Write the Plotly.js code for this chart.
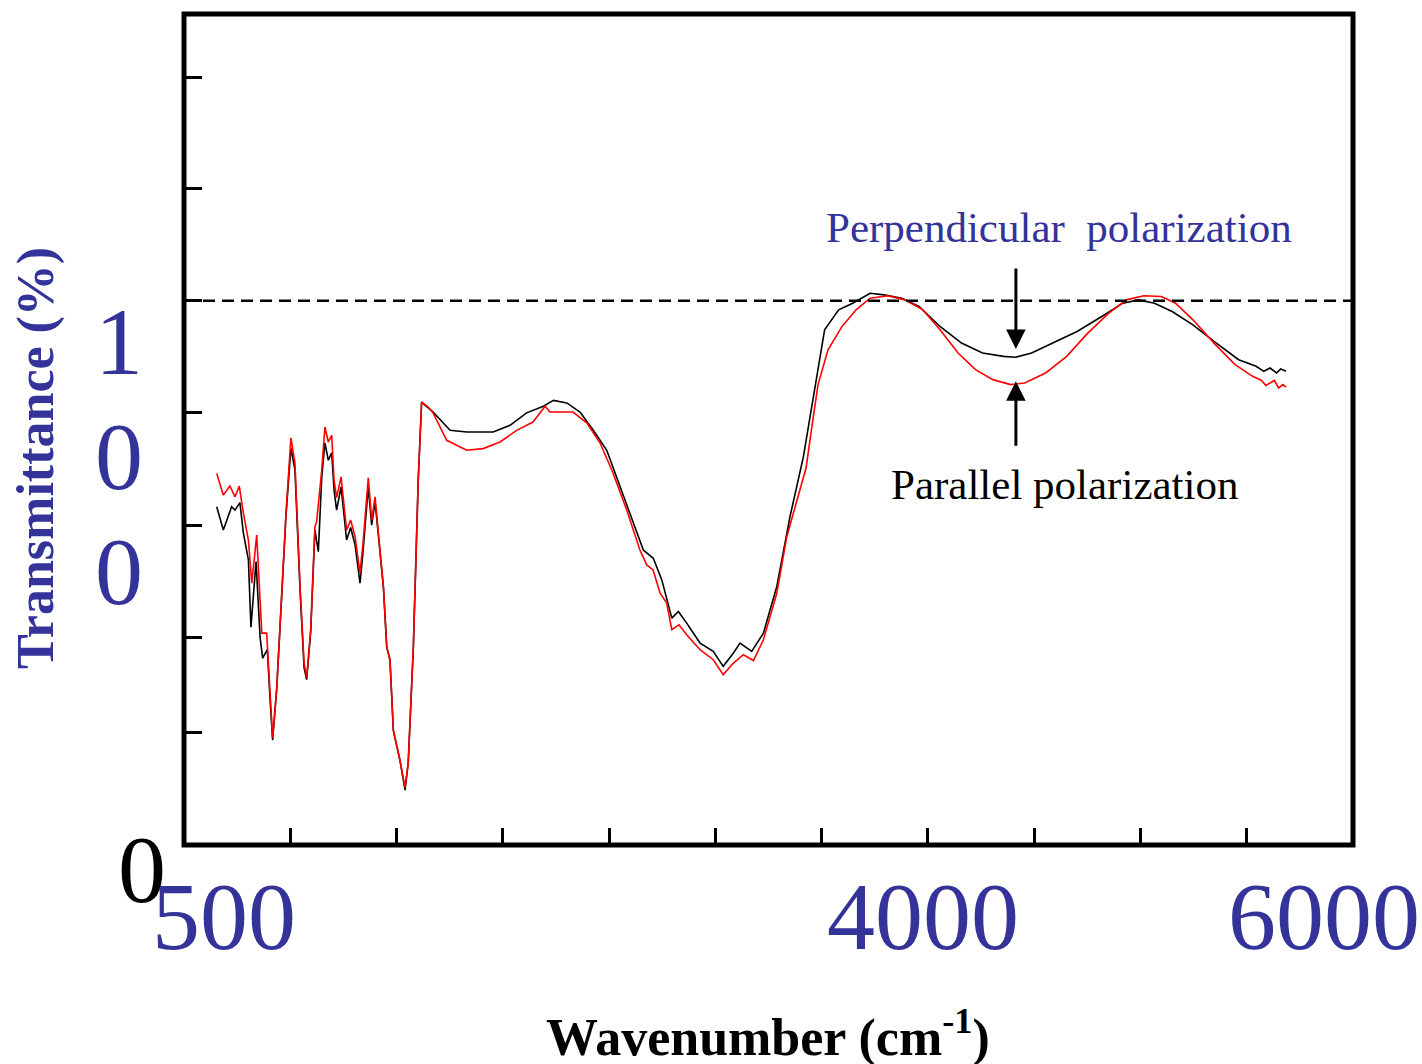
<!DOCTYPE html>
<html>
<head>
<meta charset="utf-8">
<script src="https://cdn.plot.ly/plotly-3.0.1.min.js"></script>
<style>html,body{margin:0;padding:0;background:#fff;}#chart{width:1422px;height:1064px;}</style>
</head>
<body>
<div id="chart"></div>
<script>
// Wavenumber (cm-1) and transmittance (%)
const wnParallel = [654,685,716,740,760,779,803,819,842,858,866,889,905,917,936,960,980,1003,1022,1046,1065,1077,1096,1116,1124,1148,1163,1179,1195,1206,1218,1239,1265,1284,1305,1328,1341,1367,1383,1399,1414,1438,1454,1469,1485,1516,1540,1555,1579,1602,1618,1649,1672,1736,1830,1907,1987,2065,2142,2199,2222,2330,2395,2457,2518,2583,2645,2677,2707,2740,2771,2795,2829,2865,2928,2990,3037,3085,3132,3179,3226,3289,3336,3398,3427,3455,3483,3530,3596,3662,3728,3811,3892,3976,4057,4142,4224,4306,4389,4455,4554,4653,4752,4851,4934,5016,5099,5165,5247,5346,5445,5528,5570,5590,5610,5630,5650,5670,5685];
const tParallel = [44.7,42.1,43.2,41.9,43.2,40.0,36.7,31.5,37.3,29.1,25.5,25.5,17.5,12.9,18.7,30.3,40.0,49.0,46.0,31.1,21.9,20.1,25.9,38.3,38.9,45.1,50.3,48.5,49.3,43.9,41.8,44.3,37.9,39.1,37.1,32.7,35.9,44.2,39.1,41.9,37.6,31.1,23.8,22.3,13.8,10.2,6.9,9.9,23.8,43.9,53.3,52.7,52.0,48.7,47.5,47.7,48.5,49.9,50.9,52.8,52.1,52.1,50.8,48.4,44.8,40.3,35.5,33.7,33.1,30.3,29.1,25.9,26.5,25.3,23.5,22.3,20.5,21.9,22.9,22.2,24.7,30.3,37.1,42.7,45.4,50.5,55.4,59.6,62.4,64.4,65.8,66.1,65.6,64.4,62.0,59.2,57.2,56.0,55.4,55.6,56.8,58.8,61.6,64.0,65.6,66.1,66.0,65.2,63.2,60.4,57.8,56.4,55.9,55.3,55.6,55.9,55.0,55.4,55.1];

const wnPerpendicular = [654,685,724,740,763,779,803,815,839,858,870,892,905,917,936,960,980,1003,1022,1046,1065,1077,1096,1116,1132,1148,1163,1179,1195,1206,1218,1239,1265,1284,1305,1328,1341,1367,1383,1399,1414,1438,1454,1469,1485,1516,1540,1555,1579,1602,1618,1672,1752,1830,1955,2034,2112,2191,2238,2301,2363,2426,2489,2551,2614,2661,2708,2748,2795,2826,2865,2928,2990,3037,3085,3116,3171,3226,3289,3351,3414,3473,3514,3580,3646,3728,3794,3877,3958,4057,4158,4257,4356,4414,4488,4587,4702,4818,4917,4991,5066,5149,5247,5346,5462,5544,5580,5610,5640,5660,5685];
const tPerpendicular = [40.7,37.9,40.7,40.3,41.2,37.6,34.3,26.2,34.1,25.0,22.5,23.5,17.5,12.6,18.7,30.3,39.7,47.8,45.1,30.7,21.3,19.9,25.6,37.9,35.3,44.2,48.4,46.3,47.2,42.7,40.3,43.1,36.7,38.2,36.1,31.5,34.9,43.1,38.5,41.3,37.3,31.1,23.8,22.3,13.8,10.2,6.6,9.9,23.8,43.9,53.3,52.1,49.9,49.7,49.7,50.5,52.0,52.8,53.5,53.2,52.1,49.9,47.5,43.1,38.8,35.5,34.5,31.9,27.3,28.1,26.7,24.3,23.3,21.5,23.1,24.3,23.3,25.5,31.1,39.5,46.7,55.6,62.0,64.4,65.2,66.4,66.2,65.8,64.8,62.4,60.4,59.2,58.8,58.7,59.2,60.4,61.8,63.6,65.2,65.6,65.2,64.2,62.6,60.6,58.4,57.6,57.0,57.4,56.8,57.3,57.0];

const xTickVals = [1000,1500,2000,2500,3000,3500,4000,4500,5000,5500];
const yTickVals = [13.5,25,38.5,52,65.5,79,92.4];
const referenceLevel = 65.5;
const arrowWavenumber = 4414;
const perpArrowTip = 59.7;
const parArrowTip = 55.8;

const xLabelTexts = ['0','500','4000','6000'];
const yLabelTexts = ['1','0','0'];

const BLUE = '#333399';
const SERIF = '"Liberation Serif", "Times New Roman", Times, serif';

const traces = [
  {x: wnPerpendicular, y: tPerpendicular, type:'scatter', mode:'lines', name:'Perpendicular polarization',
   line:{color:'#000000', width:1.6}},
  {x: wnParallel, y: tParallel, type:'scatter', mode:'lines', name:'Parallel polarization',
   line:{color:'#ff0000', width:1.6}}
];

// helper: pixel position in the 1422x1064 page -> paper coordinates
function px(xp){ return (xp-184)/1169; }
function py(yp){ return (845-yp)/831; }
function label(text, x, y, font, extra){
  return Object.assign({xref:'paper', yref:'paper', x:px(x), y:py(y), text:text, showarrow:false,
    xanchor:'center', yanchor:'middle', font:font}, extra||{});
}

const big = (c)=>({family: SERIF, size: 96, color:c});
const annotations = [
  // x tick-like labels
  label(xLabelTexts[0], 142, 869, big('#000000')),
  label(xLabelTexts[1], 224, 917, big(BLUE)),
  label(xLabelTexts[2], 923, 917, big(BLUE)),
  label(xLabelTexts[3], 1324, 917, big(BLUE)),
  // y tick-like labels
  label(yLabelTexts[0], 119, 341, big(BLUE)),
  label(yLabelTexts[1], 119, 456, big(BLUE)),
  label(yLabelTexts[2], 119, 571, big(BLUE)),
  // axis titles
  label('<b>Transmittance (%)</b>', 36, 458, {family:SERIF, size:52, color:BLUE}, {textangle:-90}),
  label('<b>Wavenumber (cm<sup>-1</sup>)</b>', 768, 1034, {family:SERIF, size:52, color:'#000000'}),
  // series labels
  label('Perpendicular\u00a0\u00a0polarization', 1059, 228, {family:SERIF, size:43, color:BLUE}),
  label('Parallel polarization', 1064, 484, {family:SERIF, size:43, color:'#000000'}),
  // arrows
  {x:arrowWavenumber, y:perpArrowTip, xref:'x', yref:'y', text:'', showarrow:true, ax:0, ay:-82,
   arrowhead:2, arrowsize:1.3, arrowwidth:3, arrowcolor:'#000000'},
  {x:arrowWavenumber, y:parArrowTip, xref:'x', yref:'y', text:'', showarrow:true, ax:0, ay:66,
   arrowhead:2, arrowsize:1.3, arrowwidth:3, arrowcolor:'#000000'}
];

const layout = {
  width:1422, height:1064,
  margin:{l:184, r:69, t:14, b:219, pad:0},
  paper_bgcolor:'#ffffff', plot_bgcolor:'#ffffff',
  showlegend:false,
  xaxis:{range:[500,6000], tickvals:xTickVals, ticks:'inside', ticklen:17, tickwidth:3, tickcolor:'#000000',
         showticklabels:false, showgrid:false, zeroline:false, showline:false, fixedrange:true},
  yaxis:{range:[0,100], tickvals:yTickVals, ticks:'inside', ticklen:18, tickwidth:3, tickcolor:'#000000',
         showticklabels:false, showgrid:false, zeroline:false, showline:false, fixedrange:true},
  shapes:[
    {type:'line', xref:'paper', yref:'y', x0:0, x1:1, y0:referenceLevel, y1:referenceLevel,
     line:{color:'#000000', width:2.5, dash:'12px,7px'}},
    {type:'rect', xref:'paper', yref:'paper', x0:0, x1:1, y0:0, y1:1, line:{color:'#000000', width:5}, fillcolor:'rgba(0,0,0,0)'}
  ],
  annotations: annotations
};

Plotly.newPlot('chart', traces, layout, {displayModeBar:false, staticPlot:true});
</script>
</body>
</html>
